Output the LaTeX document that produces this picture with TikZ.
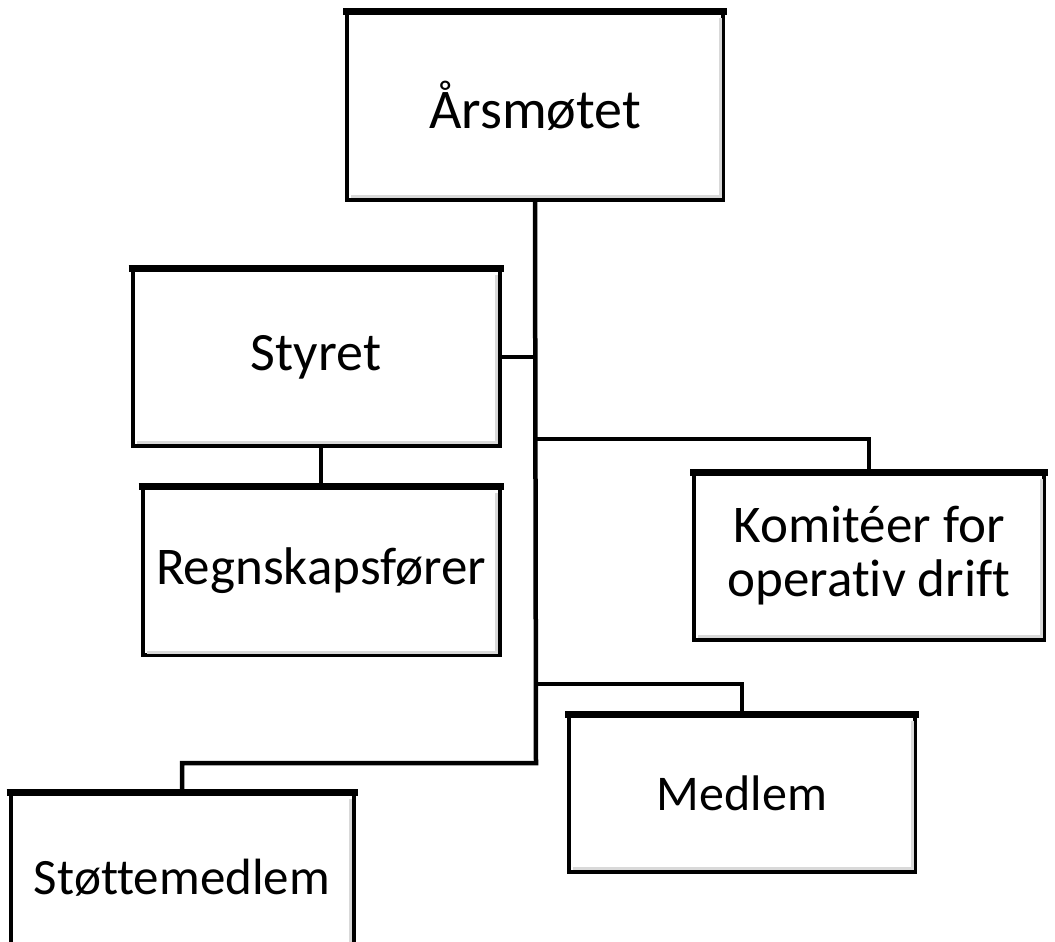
\documentclass[tikz,border=0pt]{standalone}
\usepackage{fontspec}
\setmainfont{Carlito}[Ligatures=NoCommon]
\usetikzlibrary{positioning}

\begin{document}
\begin{tikzpicture}[x=1pt, y=-1pt,
  orgbox/.style={draw, line width=4pt, fill=white, align=center,
    font=\fontsize{53}{54}\selectfont},
  link/.style={line width=4.5pt}]
\clip (0,0) rectangle (1055,942);
\fill[white] (0,0) rectangle (1055,942);
% boxes
\node[orgbox, minimum width=376pt, minimum height=187pt,
  font=\fontsize{56}{60}\selectfont] (aars) at (535,106) {Årsmøtet};
\node[orgbox, minimum width=367pt, minimum height=177pt,
  font=\fontsize{54}{60}\selectfont] (styret) at (316,357) {Styret};
\node[orgbox, minimum width=357pt, minimum height=168pt] (regn) at (321,571) {Regnskapsfører};
\node[orgbox, minimum width=350pt, minimum height=167pt] (kom) at (869,556) {Komitéer for\\operativ drift};
\node[orgbox, minimum width=346pt, minimum height=157pt,
  font=\fontsize{50}{60}\selectfont] (medlem) at (742,793) {Medlem};
\node[orgbox, minimum width=343pt, minimum height=170pt,
  font=\fontsize{51}{60}\selectfont] (stotte) at (182,878) {Støttemedlem};
% thick top edge and soft inner shade
\foreach \n in {aars,styret,regn,kom,medlem,stotte}{
  \draw[gray!30, line width=3pt]
    ([shift={(-5pt,-8pt)}]\n.north east) -- ([shift={(-5pt,5pt)}]\n.south east)
    -- ([shift={(6pt,5pt)}]\n.south west);
  \draw[line width=7pt] ([shift={(-2pt,-1.5pt)}]\n.north west) -- ([shift={(2pt,-1.5pt)}]\n.north east);
}
% connectors
\coordinate (jkom) at (536,439);
\coordinate (jmed) at (536,684);
\coordinate (jsto) at (536,763);
\draw[link] (aars.south) -- (jsto) -| (stotte.north);
\draw[link] (styret.east) -- (styret.east -| aars.south);
\draw[link] (regn.north) -- (regn.north |- styret.south);
\draw[link] (jkom) -| (kom.north);
\draw[link] (jmed) -| (medlem.north);
\end{tikzpicture}
\end{document}
